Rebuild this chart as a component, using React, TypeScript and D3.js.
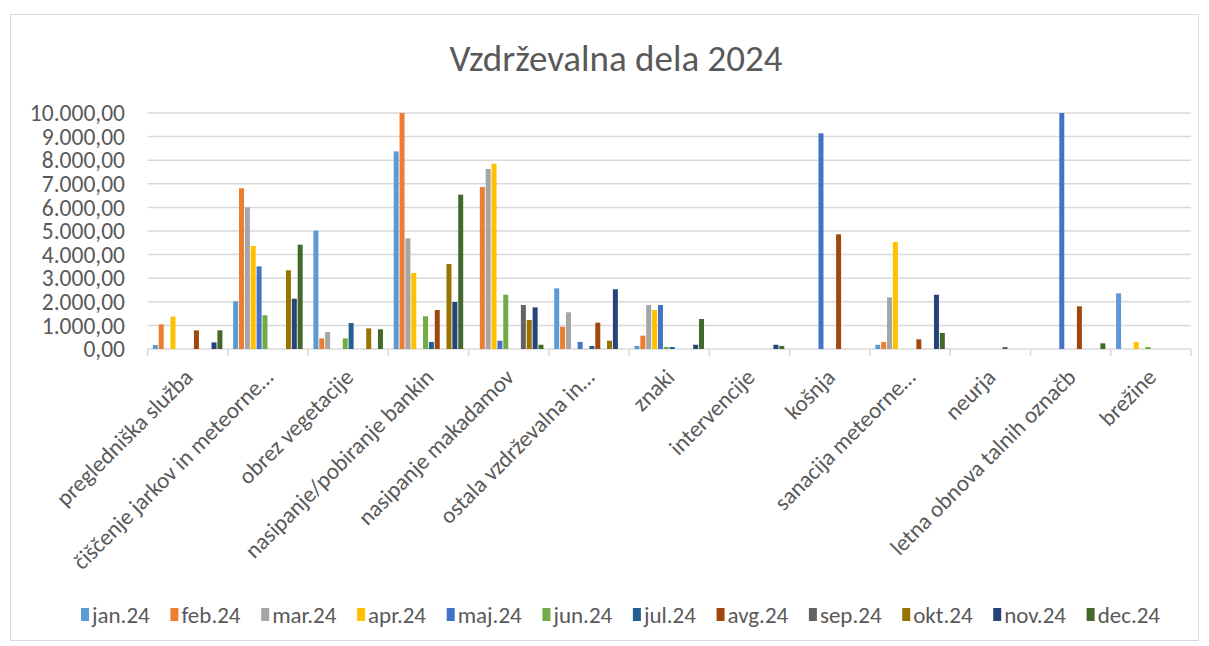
import React, { useEffect, useRef } from 'react'
import * as d3 from 'd3'

// Categories (x axis) and months (series)
const categories = [
  'pregledniška služba',
  'čiščenje jarkov in meteorne…',
  'obrez vegetacije',
  'nasipanje/pobiranje bankin',
  'nasipanje makadamov',
  'ostala vzdrževalna in…',
  'znaki',
  'intervencije',
  'košnja',
  'sanacija meteorne…',
  'neurja',
  'letna obnova talnih označb',
  'brežine',
]

const months = ['jan.24', 'feb.24', 'mar.24', 'apr.24', 'maj.24', 'jun.24', 'jul.24', 'avg.24', 'sep.24', 'okt.24', 'nov.24', 'dec.24']

// One array per month, values in category order
const jan = [170, 2020, 5015, 8375, 0, 2570, 130, 0, 0, 180, 0, 0, 2360]
const feb = [1045, 6810, 450, 10000, 6865, 945, 565, 0, 0, 300, 0, 0, 0]
const mar = [0, 6000, 720, 4690, 7630, 1555, 1865, 0, 0, 2190, 0, 0, 0]
const apr = [1370, 4365, 0, 3220, 7850, 0, 1650, 0, 0, 4535, 0, 0, 300]
const maj = [0, 3500, 0, 0, 350, 300, 1865, 0, 9140, 0, 0, 10000, 0]
const jun = [0, 1430, 450, 1385, 2300, 0, 85, 0, 0, 0, 0, 0, 85]
const jul = [0, 0, 1100, 300, 0, 130, 85, 0, 0, 0, 0, 0, 0]
const avg = [790, 0, 0, 1650, 0, 1115, 0, 0, 4860, 410, 0, 1810, 0]
const sep = [0, 0, 0, 0, 1865, 0, 0, 0, 0, 0, 85, 0, 0]
const okt = [0, 3335, 875, 3600, 1230, 350, 0, 0, 0, 0, 0, 0, 0]
const nov = [280, 2130, 0, 1990, 1765, 2530, 180, 180, 0, 2300, 0, 0, 0]
const dec = [790, 4420, 835, 6540, 180, 0, 1270, 130, 0, 680, 0, 240, 0]

const series = [jan, feb, mar, apr, maj, jun, jul, avg, sep, okt, nov, dec]

const yTicks = [0, 1000, 2000, 3000, 4000, 5000, 6000, 7000, 8000, 9000, 10000]

const colors = ['#5B9BD5', '#ED7D31', '#A5A5A5', '#FFC000', '#4472C4', '#70AD47', '#255E91', '#9E480E', '#636363', '#997300', '#264478', '#43682B']

const WIDTH = 1209
const HEIGHT = 646
const FONT = "Calibri, Carlito, Lato, 'Liberation Sans', Arial, sans-serif"
const TEXT = '#595959'
const GRID = '#d9d9d9'

export default function App() {
  const ref = useRef<SVGSVGElement>(null)

  useEffect(() => {
    document.body.style.margin = '0'
    const svg = d3.select(ref.current)
    svg.selectAll('*').remove()

    // Plot area
    const left = 147.5
    const right = 1191
    const top = 113
    const bottom = 349

    const x0 = d3.scaleBand().domain(categories).range([left, right]).padding(0)
    const x1 = d3.scaleBand().domain(months).range([0, x0.bandwidth()]).paddingInner(0.15).paddingOuter(0.915)
    const y = d3.scaleLinear().domain([0, 10000]).range([bottom, top])

    const fmt = (v: number) => {
      const s = d3.format(',.2f')(v)
      return s.replace(/,/g, 'X').replace('.', ',').replace(/X/g, '.')
    }

    // Outer frame
    svg.append('rect')
      .attr('x', 10.5).attr('y', 14.5)
      .attr('width', 1188).attr('height', 626)
      .attr('fill', '#fff')
      .attr('stroke', GRID)
      .attr('stroke-width', 1)

    // Title
    svg.append('text')
      .text('Vzdrževalna dela 2024')
      .attr('x', 616)
      .attr('y', 71)
      .attr('text-anchor', 'middle')
      .attr('font-family', FONT)
      .attr('font-size', 37)
      .attr('fill', TEXT)

    // Gridlines + y labels
    yTicks.forEach(t => {
      svg.append('line')
        .attr('x1', left).attr('x2', right)
        .attr('y1', y(t)).attr('y2', y(t))
        .attr('stroke', GRID)
        .attr('stroke-width', 1.5)

      svg.append('text')
        .text(fmt(t))
        .attr('x', 125)
        .attr('y', y(t))
        .attr('dy', '0.35em')
        .attr('text-anchor', 'end')
        .attr('font-family', FONT)
        .attr('font-size', 23.5)
        .attr('fill', TEXT)
    })

    // Category tick marks
    const edges = categories.map(c => x0(c) as number).concat([right])
    edges.forEach(e => {
      svg.append('line')
        .attr('x1', e).attr('x2', e)
        .attr('y1', bottom).attr('y2', bottom + 7)
        .attr('stroke', GRID)
        .attr('stroke-width', 1.5)
    })

    // Bars
    series.forEach((values, si) => {
      svg.append('g')
        .selectAll('rect')
        .data(values)
        .join('rect')
        .attr('x', (d, i) => (x0(categories[i]) as number) + (x1(months[si]) as number))
        .attr('width', x1.bandwidth())
        .attr('y', d => y(d))
        .attr('height', d => bottom - y(d))
        .attr('fill', colors[si])
    })

    // Category labels, rotated
    categories.forEach(c => {
      const cx = (x0(c) as number) + x0.bandwidth() / 2
      svg.append('text')
        .text(c)
        .attr('transform', `translate(${cx + 1},${bottom + 24}) rotate(-45)`)
        .attr('dy', '0.35em')
        .attr('text-anchor', 'end')
        .attr('font-family', FONT)
        .attr('font-size', 23)
        .attr('fill', TEXT)
    })

    // Legend
    const legend = svg.append('g')
    const items = months.map((m, i) => {
      const g = legend.append('g')
      g.append('rect')
        .attr('width', 8).attr('height', 13)
        .attr('y', 608)
        .attr('fill', colors[i])
      const t = g.append('text')
        .text(m)
        .attr('x', 11)
        .attr('y', 623)
        .attr('font-family', FONT)
        .attr('font-size', 23)
        .attr('fill', TEXT)
      const w = 11 + (t.node() as SVGTextElement).getComputedTextLength()
      return { g, w }
    })
    const total = d3.sum(items, d => d.w)
    const gap = (1160 - 81 - total) / (items.length - 1)
    let pos = 81
    items.forEach(it => {
      it.g.attr('transform', `translate(${pos},0)`)
      pos += it.w + gap
    })
  }, [])

  return (
    <svg ref={ref} width={WIDTH} height={HEIGHT} style={{ display: 'block' }}></svg>
  )
}
